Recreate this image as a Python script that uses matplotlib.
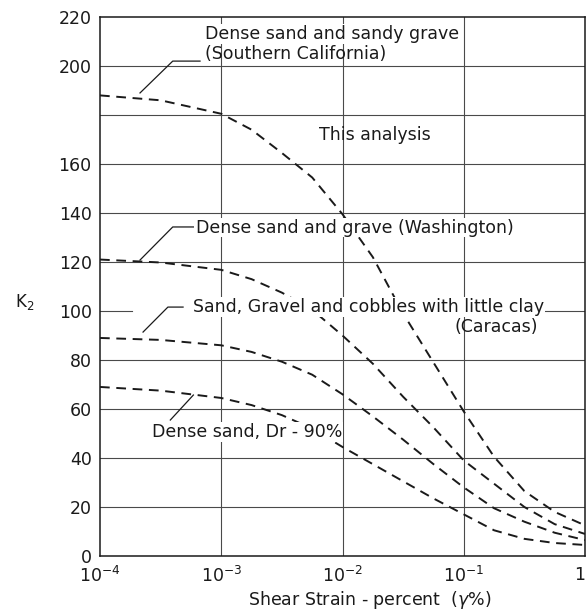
import matplotlib

matplotlib.use("Agg")
import matplotlib.pyplot as plt
import numpy as np

INK = "#1a1a1a"
GRID = "#4a4a4a"

# shear strain (percent) as log10 exponents
LOG_STRAIN = [-4, -3.5, -3, -2.75, -2.5, -2.25, -2, -1.75, -1.5, -1.25, -1, -0.75, -0.5, -0.25, 0]

K2_SOUTHERN_CAL = [188, 186, 180.5, 174, 164.5, 154.5, 139.5, 122, 99, 79, 59, 40.5, 26.5, 18, 12.5]
K2_WASHINGTON = [121, 119.8, 116.8, 113, 107.5, 100.5, 90, 78.5, 65, 52.5, 39, 29.5, 20, 13, 9]
K2_CARACAS = [89, 88.2, 86, 83.3, 79.3, 74, 66, 57, 47.5, 37.5, 28, 19.5, 14, 9.5, 6.5]
K2_DENSE_DR90 = [69, 67.5, 64.5, 61.6, 57.5, 52, 44.5, 37.5, 30.5, 23.5, 17, 10.5, 7, 5.3, 4.5]

X_TICKS = [1e-4, 1e-3, 1e-2, 1e-1, 1]
X_TICK_LABELS = ["$10^{-4}$", "$10^{-3}$", "$10^{-2}$", "$10^{-1}$", "1"]
Y_TICKS = list(range(0, 221, 20))
Y_TICK_LABELS = [str(v) if v != 180 else "" for v in Y_TICKS]

# leader lines: (log strain, K2) vertices
LEAD_SC = ([-3.67, -3.40, -3.175], [189, 202, 202])
LEAD_WA = ([-3.67, -3.40, -3.23], [120.8, 134.3, 134.3])
LEAD_CA = ([-3.645, -3.44, -3.315], [91.4, 101.6, 101.6])
LEAD_DR = ([-3.42, -3.23], [55.5, 65.7])

plt.rcParams["font.family"] = ["DejaVu Sans"]

fig = plt.figure(figsize=(5.87, 6.11), dpi=100)
ax = fig.add_axes([100 / 587, 55 / 611, 485 / 587, 539 / 611])

x = np.power(10.0, LOG_STRAIN)
for ys in (K2_SOUTHERN_CAL, K2_WASHINGTON, K2_CARACAS, K2_DENSE_DR90):
    ax.plot(x, ys, color=INK, lw=1.4, dashes=(5, 3.4), zorder=3)

for lx, ly in (LEAD_SC, LEAD_WA, LEAD_CA, LEAD_DR):
    ax.plot(np.power(10.0, lx), ly, color=INK, lw=0.9, zorder=3)

ax.set_xscale("log")
ax.set_xlim(1e-4, 1)
ax.set_ylim(0, 220)

# horizontal grid, the 100 line is broken by the Caracas label
for v in Y_TICKS[1:-1]:
    if v == 100:
        ax.axhline(v, xmax=0.066, color=GRID, lw=0.8, zorder=1)
        ax.axhline(v, xmin=0.913, color=GRID, lw=0.8, zorder=1)
    else:
        ax.axhline(v, color=GRID, lw=0.8, zorder=1)
for v in X_TICKS[1:-1]:
    ax.axvline(v, color=GRID, lw=0.8, zorder=1)

ax.set_xticks(X_TICKS)
ax.set_xticklabels(X_TICK_LABELS)
ax.xaxis.set_minor_locator(matplotlib.ticker.NullLocator())
ax.get_xticklabels()[-1].set_ha("right")
ax.set_yticks(Y_TICKS)
ax.set_yticklabels(Y_TICK_LABELS)
ax.tick_params(length=0, labelsize=12.5, colors=INK)
ax.tick_params(axis="y", pad=6)
ax.tick_params(axis="x", pad=7)
for spine in ax.spines.values():
    spine.set_color(INK)
    spine.set_linewidth(1.1)

ax.set_ylabel("K$_2$", rotation=0, fontsize=12, color=INK)
ax.yaxis.set_label_coords(-0.155, 0.453)
ax.set_xlabel("Shear Strain - percent  ($\\gamma$%)", fontsize=12.5, color=INK)
ax.xaxis.set_label_coords(0.557, -0.062)

# labels knock out the dashed curves behind them, as in the print
knock = dict(facecolor="white", edgecolor="none", pad=0.5)
txt = dict(fontsize=12.5, color=INK, va="center", ha="left", zorder=4)
ax.text(10 ** -3.13, 213, "Dense sand and sandy grave", bbox=knock, **txt)
ax.text(10 ** -3.13, 205, "(Southern California)", **txt)
ax.text(10 ** -2.19, 171.8, "This analysis", **txt)
ax.text(10 ** -3.21, 134, "Dense sand and grave (Washington)", bbox=knock, **txt)
ax.text(10 ** -3.23, 101.6, "Sand, Gravel and cobbles with little clay", bbox=knock, **txt)
ax.text(10 ** -0.39, 93.5, "(Caracas)", **dict(txt, ha="right"))
ax.text(10 ** -3.57, 50.6, "Dense sand, Dr - 90%", bbox=knock, **txt)

fig.savefig("out.png", dpi=100, facecolor="white")
